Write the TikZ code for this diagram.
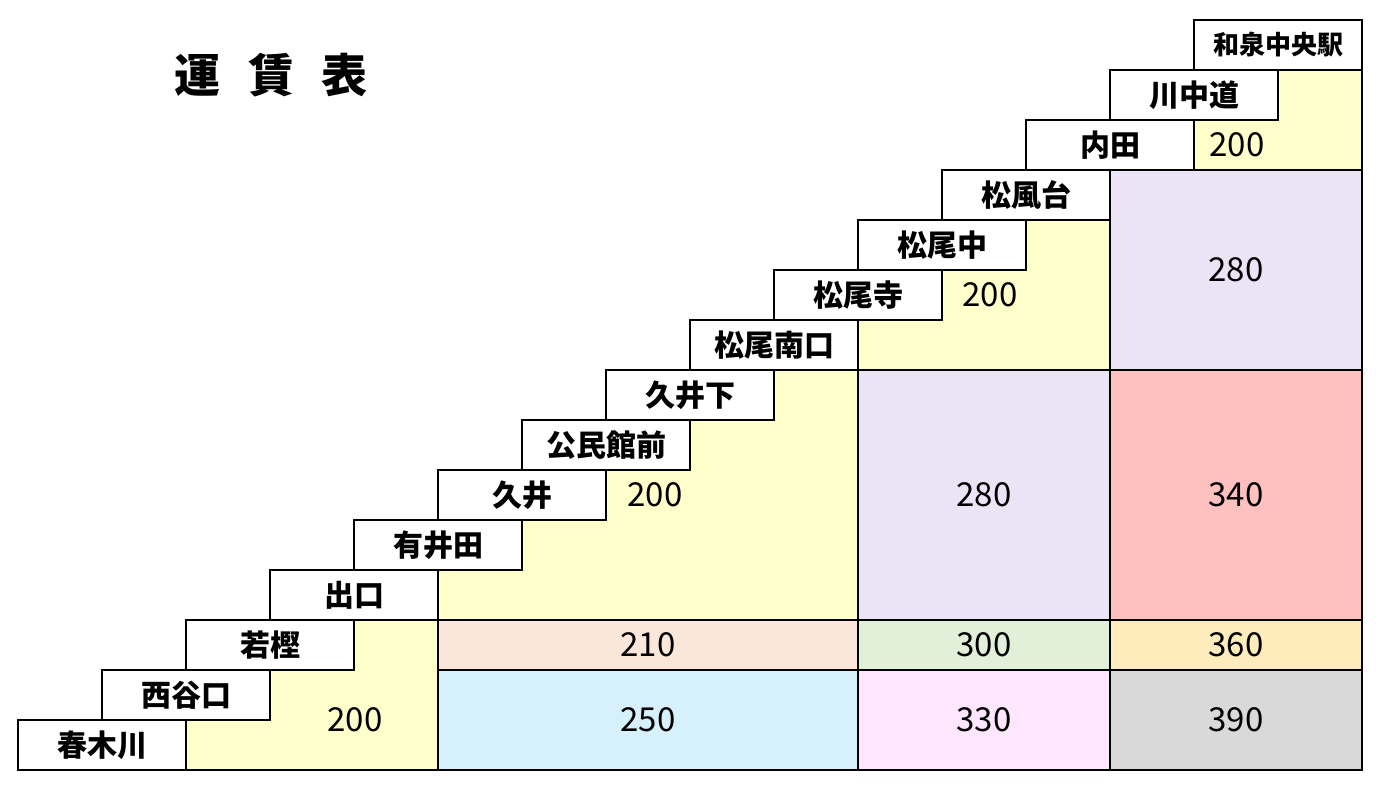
\documentclass[tikz,border=0pt]{standalone}
\usepackage{fontspec}
\setmainfont{Noto Sans CJK JP}
\definecolor{fyellow}{HTML}{FFFFCC}
\definecolor{flav}{HTML}{EAE4F6}
\definecolor{fpink}{HTML}{FFC0C0}
\definecolor{fpeach}{HTML}{FBE6DA}
\definecolor{fgreen}{HTML}{E2F0D9}
\definecolor{forange}{HTML}{FFECBC}
\definecolor{fblue}{HTML}{D6F1FB}
\definecolor{fmag}{HTML}{FFE6FF}
\definecolor{fgray}{HTML}{D9D9D9}
\tikzset{
  fare/.style={draw, line width=1.2pt, inner sep=0pt, font=\fontsize{33}{33}\selectfont},
  stn/.style={draw, fill=white, line width=1.2pt, inner sep=0pt, minimum width=168pt, minimum height=50pt, font=\bfseries\fontsize{30}{30}\selectfont},
}
\begin{document}
\begin{tikzpicture}[x=1pt, y=-1pt]
    \useasboundingbox (0,0) rectangle (1381,791);
    % fare zones
    \draw[fare, fill=fyellow] (186,770) -- (186,720) -- (270,720) -- (270,670) -- (354,670) -- (354,620) -- (438,620) -- (438,770) -- cycle;
    \draw[fare, fill=fyellow] (438,620) -- (438,570) -- (522,570) -- (522,520) -- (606,520) -- (606,470) -- (690,470) -- (690,420) -- (774,420) -- (774,370) -- (858,370) -- (858,620) -- cycle;
    \draw[fare, fill=fyellow] (858,370) -- (858,320) -- (942,320) -- (942,270) -- (1026,270) -- (1026,220) -- (1110,220) -- (1110,370) -- cycle;
    \draw[fare, fill=fyellow] (1194,170) -- (1194,120) -- (1278,120) -- (1278,70) -- (1362,70) -- (1362,170) -- cycle;
    \node[fare, fill=flav, minimum width=252pt, minimum height=200pt] (f280a) at (1236,270) {280};
    \node[fare, fill=flav, minimum width=252pt, minimum height=250pt] (f280b) at (984,495) {280};
    \node[fare, fill=fpink, minimum width=252pt, minimum height=250pt] (f340) at (1236,495) {340};
    \node[fare, fill=fpeach, minimum width=420pt, minimum height=50pt] (f210) at (648,645) {210};
    \node[fare, fill=fgreen, minimum width=252pt, minimum height=50pt] (f300) at (984,645) {300};
    \node[fare, fill=forange, minimum width=252pt, minimum height=50pt] (f360) at (1236,645) {360};
    \node[fare, fill=fblue, minimum width=420pt, minimum height=100pt] (f250) at (648,720) {250};
    \node[fare, fill=fmag, minimum width=252pt, minimum height=100pt] (f330) at (984,720) {330};
    \node[fare, fill=fgray, minimum width=252pt, minimum height=100pt] (f390) at (1236,720) {390};
    \node[font=\fontsize{33}{33}\selectfont] (y1) at (355,720) {200};
    \node[font=\fontsize{33}{33}\selectfont] (y2) at (655,495) {200};
    \node[font=\fontsize{33}{33}\selectfont] (y3) at (990,295) {200};
    \node[font=\fontsize{33}{33}\selectfont] (y4) at (1237,145) {200};
    % stations
    \foreach \n [count=\i from 0] in {春木川,西谷口,若樫,出口,有井田,久井,公民館前,久井下,松尾南口,松尾寺,松尾中,松風台,内田,川中道}
      \node[stn] (s\i) at (102+84*\i, 745-50*\i) {\n};
    \node[stn, font=\bfseries\fontsize{26}{26}\selectfont] (s14) at (1278,45) {和泉中央駅};
    \node[font=\bfseries\fontsize{46}{46}\selectfont] (title) at (271,75) {運\hspace{0.6em}賃\hspace{0.6em}表};
\end{tikzpicture}
\end{document}
